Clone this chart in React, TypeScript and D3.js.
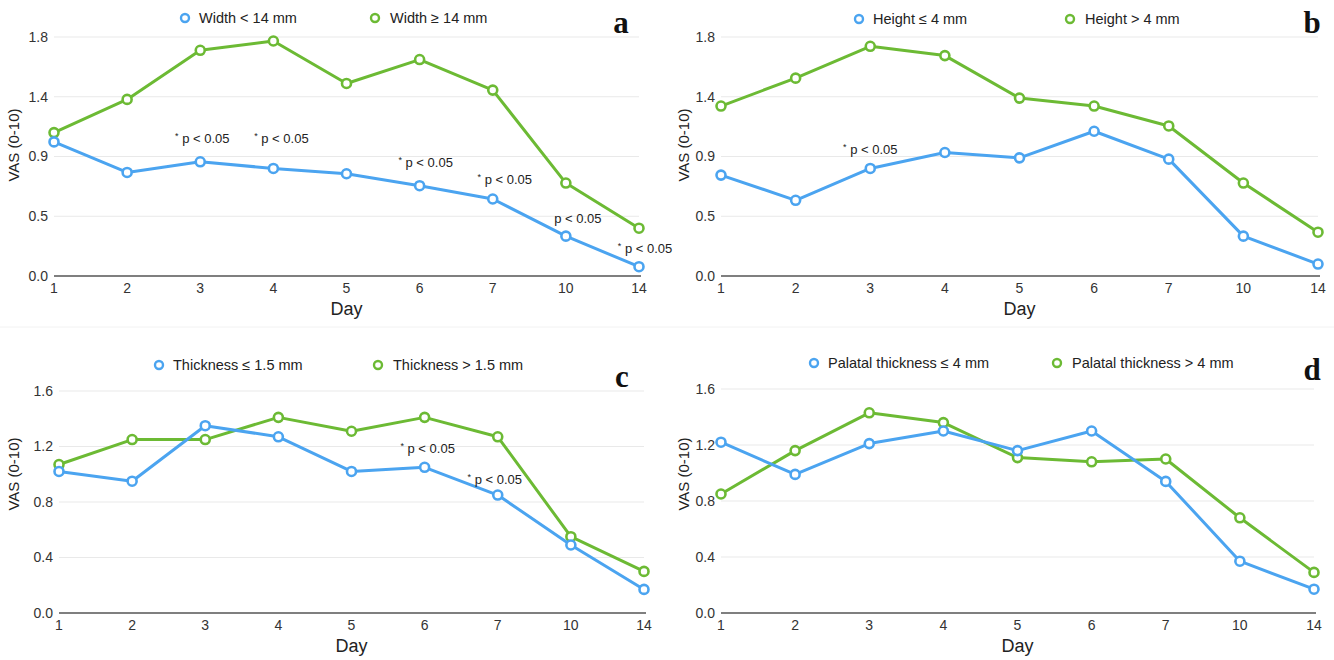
import React from 'react'
import * as d3 from 'd3'

const days = ['1', '2', '3', '4', '5', '6', '7', '10', '14']

// panel a
const widthSmall = [1.01, 0.78, 0.86, 0.81, 0.77, 0.68, 0.58, 0.3, 0.07]
const widthLarge = [1.08, 1.33, 1.7, 1.77, 1.45, 1.63, 1.4, 0.7, 0.36]
// panel b
const heightSmall = [0.76, 0.57, 0.81, 0.93, 0.89, 1.09, 0.88, 0.3, 0.09]
const heightLarge = [1.28, 1.49, 1.73, 1.66, 1.34, 1.28, 1.13, 0.7, 0.33]
// panel c
const thickSmall = [1.02, 0.95, 1.35, 1.27, 1.02, 1.05, 0.85, 0.49, 0.17]
const thickLarge = [1.07, 1.25, 1.25, 1.41, 1.31, 1.41, 1.27, 0.55, 0.3]
// panel d
const palatalSmall = [1.22, 0.99, 1.21, 1.3, 1.16, 1.3, 0.94, 0.37, 0.17]
const palatalLarge = [0.85, 1.16, 1.43, 1.36, 1.11, 1.08, 1.1, 0.68, 0.29]

const ticksTop = [0, 0.45, 0.9, 1.35, 1.8]
const tickLabelsTop = ['0.0', '0.5', '0.9', '1.4', '1.8']
const ticksBottom = [0, 0.4, 0.8, 1.2, 1.6]
const tickLabelsBottom = ['0.0', '0.4', '0.8', '1.2', '1.6']

const BLUE = '#4ba4f0'
const GREEN = '#6cba34'
const SANS = '"Liberation Sans", Arial, Helvetica, sans-serif'

type Note = { day: string; v: number; dx: number; star: boolean }

type PanelProps = {
  letter: string
  xRange: [number, number]
  y0: number
  yTop: number
  yMax: number
  ticks: number[]
  tickLabels: string[]
  blue: number[]
  green: number[]
  labels: [string, string]
  legendY: number
  legendX: [number, number]
  letterX: number
  letterY: number
  titleX: number
  titleY: number
  notes: Note[]
}

const Panel = (p: PanelProps) => {
  const x = d3.scalePoint<string>().domain(days).range(p.xRange)
  const y = d3.scaleLinear().domain([0, p.yMax]).range([p.y0, p.yTop])
  const line = d3.line<number>()
    .x((d, i) => x(days[i]) as number)
    .y(d => y(d))
  const [x0, x1] = p.xRange

  const series = [
    { vals: p.green, color: GREEN },
    { vals: p.blue, color: BLUE },
  ]

  return (
    <g>
      {p.ticks.map((t, i) => (
        <g key={i}>
          {i > 0 && <line x1={x0} x2={x1} y1={y(t)} y2={y(t)} stroke='#e9e9e9' strokeWidth={1} />}
          <text x={x0 - 6} y={y(t)} dy='0.35em' textAnchor='end' fontSize={14} fill='#333' fontFamily={SANS}>{p.tickLabels[i]}</text>
        </g>
      ))}
      <line x1={x0} x2={x1 + 2} y1={p.y0} y2={p.y0} stroke='#555' strokeWidth={1.6} />
      {days.map(d => (
        <text key={d} x={x(d)} y={p.y0 + 17} textAnchor='middle' fontSize={14} fill='#333' fontFamily={SANS}>{d}</text>
      ))}
      <text x={(x0 + x1) / 2} y={p.y0 + 39} textAnchor='middle' fontSize={18} fill='#222' fontFamily={SANS}>Day</text>
      <text transform={`translate(${p.titleX},${p.titleY}) rotate(-90)`} textAnchor='middle' dy='0.35em' fontSize={15} fill='#222' fontFamily={SANS}>VAS (0-10)</text>

      {series.map((s, k) => (
        <g key={k}>
          <path d={line(s.vals) || ''} fill='none' stroke={s.color} strokeWidth={3} strokeLinejoin='round' />
          {s.vals.map((v, i) => (
            <circle key={i} cx={x(days[i])} cy={y(v)} r={4.5} fill='#fff' stroke={s.color} strokeWidth={2.6} />
          ))}
        </g>
      ))}

      {p.notes.map((n, i) => (
        <text key={i} x={(x(n.day) as number) + n.dx} y={y(n.v)} textAnchor='middle' fontSize={13} fill='#222' fontFamily={SANS}>
          {n.star && <tspan fontSize={9} dy={-4}>*</tspan>}
          {n.star && <tspan dy={4}> </tspan>}
          p &lt; 0.05
        </text>
      ))}

      <circle cx={p.legendX[0]} cy={p.legendY} r={4} fill='#fff' stroke={BLUE} strokeWidth={2.4} />
      <text x={p.legendX[0] + 14} y={p.legendY} dy='0.35em' fontSize={14.5} fill='#222' fontFamily={SANS}>{p.labels[0]}</text>
      <circle cx={p.legendX[1]} cy={p.legendY} r={4} fill='#fff' stroke={GREEN} strokeWidth={2.4} />
      <text x={p.legendX[1] + 15} y={p.legendY} dy='0.35em' fontSize={14.5} fill='#222' fontFamily={SANS}>{p.labels[1]}</text>

      <text x={p.letterX} y={p.letterY} textAnchor='middle' fontSize={31} fontWeight='bold' fill='#111' fontFamily='"Liberation Serif", "Times New Roman", serif'>{p.letter}</text>
    </g>
  )
}

const App = () => {
  return (
    <div style={{ position: 'absolute', left: 0, top: 0 }}>
      <svg width={1334} height={660} style={{ display: 'block', background: '#fff' }}>
        <line x1={0} x2={1334} y1={327} y2={327} stroke='#f2f2f2' strokeWidth={1} />
        <Panel
          letter='a' xRange={[54, 639]} y0={276} yTop={37} yMax={1.8}
          ticks={ticksTop} tickLabels={tickLabelsTop}
          blue={widthSmall} green={widthLarge}
          labels={['Width < 14 mm', 'Width ≥ 14 mm']}
          legendY={18} legendX={[185, 375]} letterX={621} letterY={33} titleX={14} titleY={145}
          notes={[
            { day: '3', v: 1.0, dx: 2, star: true },
            { day: '4', v: 1.0, dx: 8, star: true },
            { day: '6', v: 0.82, dx: 6, star: true },
            { day: '7', v: 0.69, dx: 12, star: true },
            { day: '10', v: 0.4, dx: 12, star: false },
            { day: '14', v: 0.17, dx: 6, star: true },
          ]}
        />
        <Panel
          letter='b' xRange={[721, 1318]} y0={276} yTop={37} yMax={1.8}
          ticks={ticksTop} tickLabels={tickLabelsTop}
          blue={heightSmall} green={heightLarge}
          labels={['Height ≤ 4 mm', 'Height > 4 mm']}
          legendY={19} legendX={[859, 1070]} letterX={1312} letterY={33} titleX={684} titleY={145}
          notes={[
            { day: '3', v: 0.92, dx: 0, star: true },
          ]}
        />
        <Panel
          letter='c' xRange={[59, 644]} y0={613} yTop={391} yMax={1.6}
          ticks={ticksBottom} tickLabels={tickLabelsBottom}
          blue={thickSmall} green={thickLarge}
          labels={['Thickness ≤ 1.5 mm', 'Thickness > 1.5 mm']}
          legendY={365} legendX={[159, 378]} letterX={622} letterY={387} titleX={14} titleY={474}
          notes={[
            { day: '6', v: 1.15, dx: 3, star: true },
            { day: '7', v: 0.93, dx: -3, star: true },
          ]}
        />
        <Panel
          letter='d' xRange={[721, 1314]} y0={613} yTop={389} yMax={1.6}
          ticks={ticksBottom} tickLabels={tickLabelsBottom}
          blue={palatalSmall} green={palatalLarge}
          labels={['Palatal thickness ≤ 4 mm', 'Palatal thickness > 4 mm']}
          legendY={363} legendX={[814, 1057]} letterX={1312} letterY={380} titleX={684} titleY={474}
          notes={[]}
        />
      </svg>
    </div>
  )
}

export default App
